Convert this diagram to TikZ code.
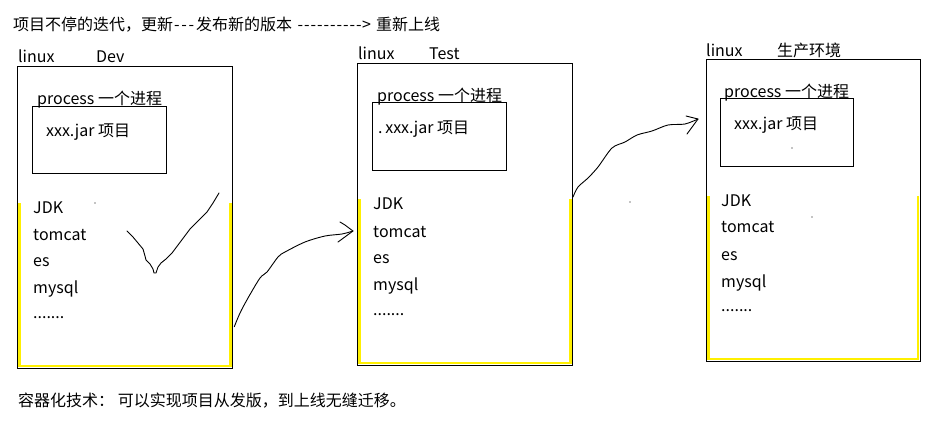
\documentclass[tikz,border=0pt]{standalone}
\usepackage{fontspec}
\setmainfont{Noto Sans CJK SC}
\newcommand\dsh{\makebox[7.3pt][c]{-}}
\newcommand\ldsh{\makebox[6.5pt][c]{-}}
\begin{document}
\begin{tikzpicture}[x=1pt,y=-1pt,
  txt/.style={anchor=base west,inner sep=0pt,font=\fontsize{16}{19}\selectfont},
  box/.style={draw=black,line width=1pt},
  ybar/.style={draw={rgb,255:red,255;green,240;blue,0},line width=2.6pt},
  hand/.style={draw=black,line width=0.9pt,line join=round,line cap=round},
  speck/.style={fill=black,circle,inner sep=0pt,minimum size=1.4pt}]
\useasboundingbox[fill=white] (0,0) rectangle (936,432);

% title
\node[txt] (title) at (13,30) {项目不停的迭代，更新\dsh\dsh\dsh\hspace{1pt}发布新的版本\hspace{5pt}\ldsh\ldsh\ldsh\ldsh\ldsh\ldsh\ldsh\ldsh\ldsh\ldsh\makebox[9pt][l]{>}\hspace{5pt}重新上线};

% ---------- Dev ----------
\draw[ybar] (19.5,203) -- (19.5,366) -- (230.5,366) -- (230.5,203);
\draw[box] (17,66) rectangle (232,368);
\node[txt] (devlinux) at (18,62) {linux};
\node[txt] (devname) at (96,62) {Dev};
\node[txt] (devproc) at (37,104) {process 一个进程};
\draw[box] (32,106) rectangle (166,173);
\node[txt] (devjar) at (46,136) {xxx.jar 项目};
\node[txt] (devjdk) at (33,213) {JDK};
\node[txt] (devtom) at (33,240) {tomcat};
\node[txt] (deves) at (33,266) {es};
\node[txt] (devsql) at (33,293) {mysql};
\node[txt] (devdots) at (33,318) {.......};
\node[speck] (sp1) at (95,203) {};

% check mark
\draw[hand] (127,231) -- (133,237) -- (138,243) -- (143,249) -- (145,256) -- (146,260) -- (150,264) -- (153,269) -- (154,273) -- (156,273) -- (158,267) -- (161,263) -- (166,259) -- (172,253) -- (178,245) -- (184,237) -- (190,229) -- (198,221) -- (207,212) -- (213,203) -- (219,193);

% ---------- Test ----------
\draw[ybar] (359.5,199) -- (359.5,363) -- (570.5,363) -- (570.5,199);
\draw[box] (357,63) rectangle (572,365);
\node[txt] (tstlinux) at (358,59) {linux};
\node[txt] (tstname) at (429,59) {Test};
\node[txt] (tstproc) at (377,101) {process 一个进程};
\draw[box] (372,102) rectangle (506,170);
\node[txt] (tstjar) at (378,133) {.\,xxx.jar 项目};
\node[txt] (tstjdk) at (373,209) {JDK};
\node[txt] (tsttom) at (373,237) {tomcat};
\node[txt] (tstes) at (373,263) {es};
\node[txt] (tstsql) at (373,290) {mysql};
\node[txt] (tstdots) at (373,315) {.......};

% ---------- Production ----------
\draw[ybar] (708.5,196) -- (708.5,359) -- (918,359) -- (918,196);
\draw[box] (706,59) rectangle (920,361);
\node[txt] (prdlinux) at (706,56) {linux};
\node[txt] (prdname) at (777,56) {生产环境};
\node[txt] (prdproc) at (724,97) {process 一个进程};
\draw[box] (720,98) rectangle (853,166);
\node[txt] (prdjar) at (734,129) {xxx.jar 项目};
\node[txt] (prdjdk) at (721,206) {JDK};
\node[txt] (prdtom) at (721,232) {tomcat};
\node[txt] (prdes) at (721,260) {es};
\node[txt] (prdsql) at (721,287) {mysql};
\node[txt] (prddots) at (721,311) {.......};
\node[speck] (sp2) at (792,148) {};
\node[speck] (sp3) at (630,202) {};
\node[speck] (sp4) at (812,217) {};

% ---------- arrows ----------
\coordinate (a1s) at (234.3,326.7);
\coordinate (a1e) at (353,231);
\draw[hand] plot[smooth,tension=0.5] coordinates {(a1s) (240,313) (248,298) (260,278) (267,272) (278,257) (285,252) (305,242) (325,236) (342,234) (a1e)};
\draw[hand] (340,222) -- (345,225) -- (a1e) -- (338,242);

\coordinate (a2s) at (573,197);
\coordinate (a2e) at (698,119);
\draw[hand] plot[smooth,tension=0.5] coordinates {(a2s) (578,187) (588,178) (598,167) (612,148) (625,142) (637,135) (652,131) (668,125) (685,124) (a2e)};
\draw[hand] (686,116) -- (a2e) -- (687,134);

% footer
\node[txt] (footer) at (18,406) {容器化技术： 可以实现项目从发版，到上线无缝迁移。};
\end{tikzpicture}
\end{document}
